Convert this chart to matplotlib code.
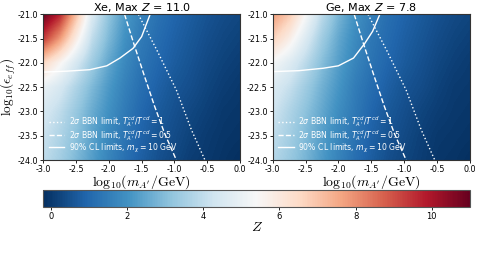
import numpy as np
import matplotlib
matplotlib.use('Agg')
import matplotlib.pyplot as plt

# grid of the Z maps (rows: log10 eps from -21 down to -24, cols: log10 m from -3 to 0)
log_m = [-3.0, -2.75, -2.5, -2.25, -2.0, -1.75, -1.5, -1.25, -1.0, -0.75, -0.5, -0.25, 0.0]
log_eps = [-21.0, -21.5, -22.0, -22.5, -23.0, -23.5, -24.0]

z_xe = [
        [11.0, 9.8, 7.2, 4.6, 3.2, 2.2, 1.6, 1.25, 0.95, 0.75, 0.55, 0.4, 0.3],
        [9.4, 7.9, 5.9, 4.0, 2.9, 2.0, 1.45, 1.1, 0.85, 0.65, 0.45, 0.3, 0.2],
        [6.6, 5.6, 4.5, 3.4, 2.5, 1.8, 1.3, 1.0, 0.75, 0.55, 0.35, 0.2, 0.1],
        [5.0, 4.5, 3.7, 2.9, 2.2, 1.6, 1.15, 0.85, 0.6, 0.45, 0.25, 0.1, 0.0],
        [4.5, 4.0, 3.3, 2.6, 2.0, 1.45, 1.0, 0.7, 0.5, 0.3, 0.15, 0.0, -0.05],
        [4.2, 3.7, 3.1, 2.4, 1.8, 1.3, 0.9, 0.6, 0.4, 0.2, 0.05, -0.05, -0.1],
        [4.0, 3.5, 2.9, 2.3, 1.7, 1.2, 0.8, 0.5, 0.3, 0.1, 0.0, -0.1, -0.2],
]

z_ge = [
        [7.8, 6.9, 5.4, 3.9, 2.8, 2.0, 1.5, 1.15, 0.9, 0.7, 0.5, 0.35, 0.25],
        [6.7, 5.8, 4.6, 3.4, 2.5, 1.85, 1.35, 1.05, 0.8, 0.6, 0.4, 0.25, 0.15],
        [5.3, 4.7, 3.9, 3.0, 2.3, 1.7, 1.25, 0.95, 0.7, 0.5, 0.3, 0.15, 0.05],
        [4.6, 4.1, 3.4, 2.7, 2.1, 1.5, 1.1, 0.8, 0.55, 0.4, 0.2, 0.05, 0.0],
        [4.3, 3.7, 3.1, 2.5, 1.9, 1.4, 0.95, 0.65, 0.45, 0.25, 0.1, 0.0, -0.05],
        [4.0, 3.5, 2.9, 2.3, 1.75, 1.25, 0.85, 0.55, 0.35, 0.15, 0.0, -0.05, -0.1],
        [3.8, 3.3, 2.8, 2.2, 1.65, 1.15, 0.75, 0.45, 0.25, 0.1, -0.05, -0.1, -0.2],
]

# BBN limits (same for both targets)
bbn1_m = [-1.55, -1.27, -0.97, -0.74, -0.535]
bbn1_eps = [-21.0, -21.73, -22.56, -23.38, -24.0]
bbn05_m = [-1.76, -1.62, -1.45, -1.30, -1.15, -0.97]
bbn05_eps = [-21.0, -21.6, -22.3, -22.9, -23.45, -24.0]

# 90% CL limits
cl_xe_m = [-3.0, -2.64, -2.29, -2.03, -1.83, -1.63, -1.50, -1.37]
cl_xe_eps = [-22.19, -22.17, -22.14, -22.06, -21.90, -21.70, -21.46, -21.0]
cl_ge_m = [-3.0, -2.60, -2.23, -2.0, -1.77, -1.60, -1.48, -1.37]
cl_ge_eps = [-22.18, -22.16, -22.11, -22.06, -21.90, -21.60, -21.35, -21.0]

panels = [('Xe', z_xe, cl_xe_m, cl_xe_eps), ('Ge', z_ge, cl_ge_m, cl_ge_eps)]

vmin, vmax = -0.2, 11.0

# image extent so that pixel centres fall on the grid points
dm = (log_m[1] - log_m[0]) / 2
de = (log_eps[0] - log_eps[1]) / 2
extent = [log_m[0] - dm, log_m[-1] + dm, log_eps[-1] - de, log_eps[0] + de]

fig = plt.figure(figsize=(4.8, 2.56), dpi=100)
ax_pos = [[0.090, 0.375, 0.410, 0.569], [0.568, 0.375, 0.411, 0.569]]

for i, (name, z, cl_m, cl_eps) in enumerate(panels):
        ax = fig.add_axes(ax_pos[i])
        z = np.array(z)
        im = ax.imshow(z, extent=extent, origin='upper', aspect='auto',
                       cmap='RdBu_r', vmin=vmin, vmax=vmax,
                       interpolation='bilinear')
        ax.plot(bbn1_m, bbn1_eps, color='white', ls=':', lw=1,
                label=r"2$\sigma$ BBN limit, $T^{cd}_{A'}/T^{cd} = 1$")
        ax.plot(bbn05_m, bbn05_eps, color='white', ls='--', lw=1,
                label=r"2$\sigma$ BBN limit, $T^{cd}_{A'}/T^{cd} = 0.5$")
        ax.plot(cl_m, cl_eps, color='white', ls='-', lw=1,
                label=r"90% CL limits, $m_\chi = 10$ GeV")
        ax.set_xlim(-3, 0)
        ax.set_ylim(-24, -21)
        ax.set_xticks(np.arange(-3, 0.01, 0.5))
        ax.set_yticks(np.arange(-24, -20.99, 0.5))
        ax.xaxis.set_major_formatter(plt.FormatStrFormatter('%.1f'))
        ax.yaxis.set_major_formatter(plt.FormatStrFormatter('%.1f'))
        ax.tick_params(labelsize=5.8, length=2.5, width=0.6, pad=1)
        for s in ax.spines.values():
                s.set_linewidth(0.8)
                s.set_color('#333333')
        ax.set_title(name + ', Max $Z$ = %.1f' % z.max(), fontsize=8, pad=2)
        ax.set_xlabel(r'$\mathrm{log}_{10}(m_{A^\prime}/\mathrm{GeV})$', fontsize=10,
                      math_fontfamily='cm')
        ax.xaxis.set_label_coords(0.5, -0.09)
        if i == 0:
                ax.set_ylabel(r'$\mathrm{log}_{10}(\epsilon_{eff})$', fontsize=9.5,
                              math_fontfamily='cm')
                ax.yaxis.set_label_coords(-0.13, 0.5)
        leg = ax.legend(loc='lower left', fontsize=5.6, frameon=False,
                        labelcolor='white', handlelength=2.0, handletextpad=0.6,
                        borderaxespad=0.3, labelspacing=-0.15)

cax = fig.add_axes([0.090, 0.190, 0.889, 0.066])
cb = fig.colorbar(im, cax=cax, orientation='horizontal')
cb.set_ticks([0, 2, 4, 6, 8, 10])
cb.ax.tick_params(labelsize=6, length=2.5, width=0.6, pad=1)
cb.outline.set_edgecolor('#555555')
cb.set_label('$Z$', fontsize=10, math_fontfamily='cm', labelpad=-1)

fig.savefig('out.png', dpi=100)
